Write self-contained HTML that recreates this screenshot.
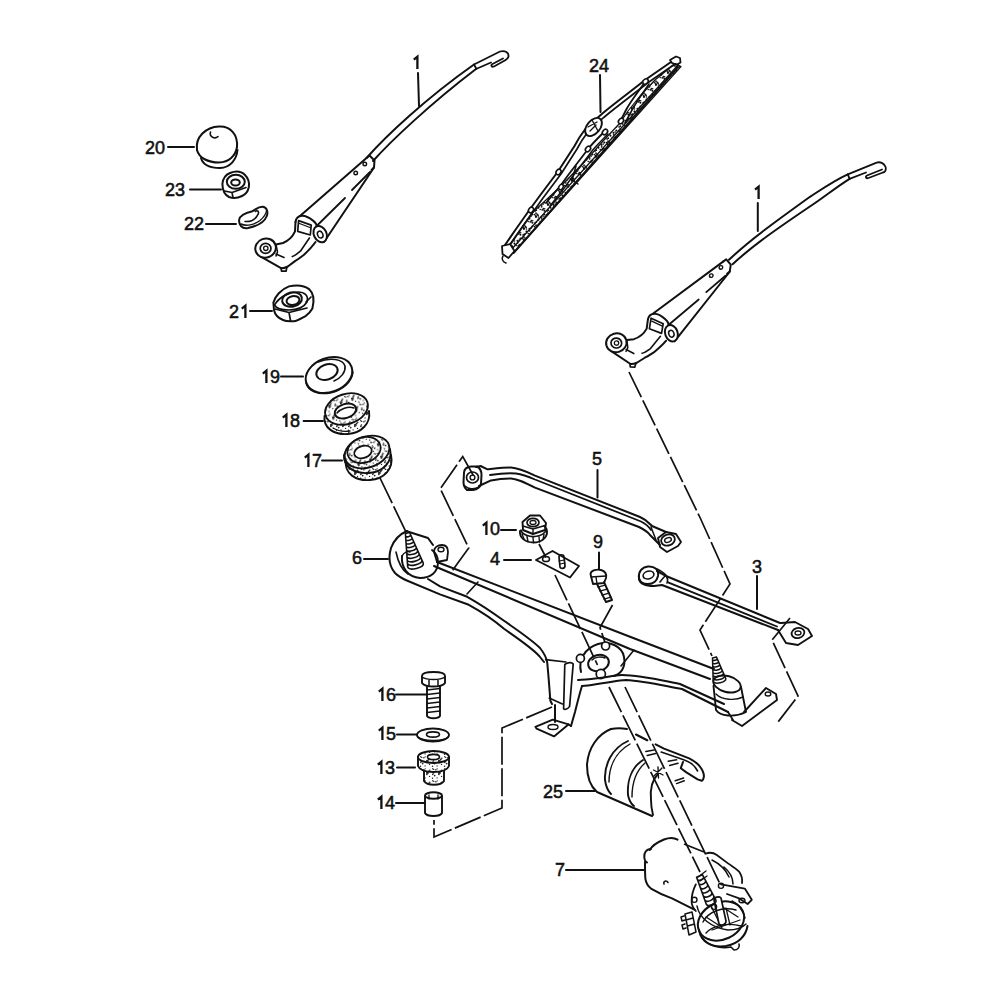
<!DOCTYPE html>
<html><head><meta charset="utf-8">
<style>
html,body{margin:0;padding:0;background:#fff;width:1000px;height:1000px;overflow:hidden}
svg{display:block}
text{font-family:"Liberation Sans",sans-serif;font-size:18px;fill:#111;stroke:#111;stroke-width:0.55px}
</style></head><body>
<svg width="1000" height="1000" viewBox="0 0 1000 1000">
<defs>
<pattern id="dots" width="12" height="12" patternUnits="userSpaceOnUse"><rect width="12" height="12" fill="#fff"/><g fill="#222"><circle cx="3.89" cy="1.81" r="0.80"/><circle cx="0.87" cy="6.43" r="0.71"/><circle cx="0.70" cy="6.09" r="0.61"/><circle cx="5.20" cy="0.84" r="0.63"/><circle cx="5.09" cy="9.92" r="0.64"/><circle cx="2.68" cy="7.53" r="0.88"/><circle cx="6.93" cy="4.76" r="0.89"/><circle cx="0.56" cy="10.30" r="0.69"/><circle cx="12.56" cy="10.30" r="0.69"/><circle cx="1.73" cy="1.41" r="0.69"/><circle cx="9.79" cy="2.17" r="0.77"/><circle cx="7.67" cy="4.47" r="0.76"/><circle cx="0.75" cy="0.72" r="0.66"/><circle cx="8.16" cy="5.13" r="0.69"/><circle cx="7.03" cy="5.44" r="0.69"/><circle cx="9.53" cy="8.39" r="0.67"/><circle cx="6.89" cy="6.30" r="0.86"/><circle cx="8.75" cy="3.46" r="0.89"/><circle cx="1.42" cy="5.02" r="0.83"/></g></pattern>
<pattern id="dots2" width="12" height="12" patternUnits="userSpaceOnUse"><rect width="12" height="12" fill="#fff"/><g fill="#111"><circle cx="1.82" cy="5.87" r="0.71"/><circle cx="8.02" cy="9.17" r="0.87"/><circle cx="10.51" cy="3.76" r="0.91"/><circle cx="7.13" cy="6.96" r="0.84"/><circle cx="10.08" cy="-0.66" r="0.84"/><circle cx="10.08" cy="11.34" r="0.84"/><circle cx="7.97" cy="0.73" r="0.91"/><circle cx="7.97" cy="12.73" r="0.91"/><circle cx="7.77" cy="-0.08" r="0.95"/><circle cx="7.77" cy="11.92" r="0.95"/><circle cx="3.42" cy="4.63" r="0.90"/><circle cx="0.27" cy="5.54" r="0.75"/><circle cx="12.27" cy="5.54" r="0.75"/><circle cx="1.41" cy="0.71" r="0.93"/><circle cx="1.41" cy="12.71" r="0.93"/><circle cx="1.55" cy="2.97" r="0.82"/><circle cx="10.46" cy="0.97" r="0.83"/><circle cx="6.59" cy="10.60" r="0.95"/><circle cx="10.37" cy="3.34" r="0.82"/><circle cx="4.31" cy="10.61" r="0.99"/><circle cx="1.81" cy="2.11" r="0.77"/><circle cx="2.80" cy="5.82" r="0.88"/><circle cx="3.15" cy="0.05" r="0.83"/><circle cx="3.15" cy="12.05" r="0.83"/><circle cx="4.43" cy="6.80" r="0.99"/><circle cx="8.29" cy="6.19" r="0.89"/><circle cx="8.11" cy="0.65" r="0.97"/><circle cx="8.11" cy="12.65" r="0.97"/><circle cx="9.36" cy="10.49" r="0.94"/><circle cx="4.71" cy="4.79" r="0.73"/><circle cx="7.61" cy="0.75" r="0.72"/></g></pattern>
</defs>
<rect width="1000" height="1000" fill="#fff"/>

<!-- LABELS -->
<g id="labels">
<text x="589.0" y="72.0">2</text>
<text x="599.0" y="72.0">4</text>
<text x="145.0" y="154.0">2</text>
<text x="155.0" y="154.0">0</text>
<text x="165.0" y="196.0">2</text>
<text x="175.0" y="196.0">3</text>
<text x="184.0" y="230.0">2</text>
<text x="194.0" y="230.0">2</text>
<text x="229.0" y="318.0">2</text>
<text x="270.0" y="383.0">9</text>
<text x="290.0" y="427.0">8</text>
<text x="312.0" y="467.0">7</text>
<text x="592.0" y="465.0">5</text>
<text x="490.0" y="535.0">0</text>
<text x="490.0" y="565.0">4</text>
<text x="593.0" y="548.0">9</text>
<text x="352.0" y="564.0">6</text>
<text x="752.0" y="573.0">3</text>
<text x="386.0" y="701.0">6</text>
<text x="386.0" y="740.0">5</text>
<text x="385.0" y="774.0">3</text>
<text x="385.0" y="809.0">4</text>
<text x="543.0" y="798.0">2</text>
<text x="553.0" y="798.0">5</text>
<text x="555.0" y="876.0">7</text>
<path d="M417.4 69.0 V56.7 L413.8 59.6 M245.4 318.0 V305.7 L241.8 308.6 M758.6 199.0 V186.7 L755.0 189.6 M266.4 383.0 V370.7 L262.8 373.6 M286.4 427.0 V414.7 L282.8 417.6 M308.4 467.0 V454.7 L304.8 457.6 M486.4 535.0 V522.7 L482.8 525.6 M382.4 701.0 V688.7 L378.8 691.6 M382.4 740.0 V727.7 L378.8 730.6 M381.4 774.0 V761.7 L377.8 764.6 M381.4 809.0 V796.7 L377.8 799.6" fill="none" stroke="#111" stroke-width="2.3" stroke-linejoin="miter"/>
</g>

<g id="art" fill="none" stroke="#111" stroke-width="2" stroke-linecap="round" stroke-linejoin="round">
<!-- leaders -->
<path d="M418 73L419 106 M600 75L600.5 112 M168 147H194 M190 189.5H221 M206 224H236 M250 311H272 M757.8 203L757.8 231 M281 376.6H303 M303.6 421H323 M322 460.6H342 M597.5 470V497.5 M501 530H516 M504 560H531 M599 552.5V569 M364 559H388 M757 576V609 M396 694.4H426 M397 734.4H417 M397 767.6H415 M396 803H425 M566 791H595 M566 870H644"/>

<!-- 20 cap -->
<path d="M197 150 C195 137 206 127 219 126.5 C231 126 238 135 237 147"/>
<path d="M197 150 C199 158 208 162.5 219 162.5 C229 162 235.5 156 237 147"/>
<path d="M201 158 C203 165 210 168 220 168 C230 167.5 236.5 160 237.5 150"/>
<path d="M210.5 132 C209 137 215 139.5 218 136.5" stroke-width="1.6"/>
<!-- 23 nut -->
<path d="M222.4 184 C223 178 226 174.5 230 173 C235 171 241 171 245 175 C248.5 178.5 249.5 183 248.8 187.2 C248 191 245.5 194.5 242 196 C238 198 233 198.5 229 197 C225 195 222.5 190 222.4 184 Z"/>
<ellipse cx="235.8" cy="181.8" rx="9" ry="7"/>
<ellipse cx="235.5" cy="182.5" rx="4.3" ry="3"/>
<path d="M224.5 191 L232 192.5 L246 187.5 M232 192.5 L233 197.5" stroke-width="1.6"/>
<!-- 22 washer -->
<path d="M239.2 219.6 C240 215 247 212.5 252.4 211.2 C256 209.5 258 206.5 263 206.8 C267.5 207.5 268 213 266.8 216 C264.5 222 258 226 248 228 C242 229 238.5 225 239.2 219.6 Z"/>
<path d="M245 221.5 C251 222 256 219 258.4 213.6 C259 211 257 210 255.5 211.5" stroke-width="1.6"/>
<path d="M241 224 C246 226.5 254 225 260 220.5 C264 217 266 214 266.5 211" stroke-width="1.4"/>
<!-- 21 nut -->
<path d="M273.4 302.6 C275 296 281 289.5 289 286.4 C295 285 303 284.5 309.4 289.4 C313.5 293 314.5 300 312.4 308.6 C310 313 307 315 305.8 315.8 C300 319 297 321 293.8 321.2 C289 321.5 285 321 283 320 C278 318 275 315 274 310 Z"/>
<path d="M274.5 305 C280 296 290 292 298 292 C304 292 309 295 307 302 C304 307 297 310 289 310 C281 310 276 308 274.5 305" stroke-width="1.7"/>
<ellipse cx="292" cy="299.5" rx="10" ry="7.2" transform="rotate(-12 292 299.5)"/>
<ellipse cx="293" cy="300.5" rx="6.5" ry="4.4" transform="rotate(-12 293 300.5)"/>
<path d="M275 309 L289 312.5 L307 308 M289 312.5 L290.5 320.5 M306 302 L311 297" stroke-width="1.7"/>
<!-- 19 washer -->
<ellipse cx="329" cy="375" rx="24" ry="17" transform="rotate(-20 329 375)"/>
<path d="M306 383 C308 391 318 395 330 393 C343 390 352 382 353 372" stroke-width="1.5"/>
<ellipse cx="327" cy="372" rx="11" ry="7.5" transform="rotate(-20 327 372)"/>
<path d="M318 362 C330 357 343 359 345 366 C346 372 341 378 334 381" stroke-width="1.6"/>

<!-- LEFT ARM 1 -->
<g id="armbody">
<path d="M366.5 158 L369.5 155.5 L374.5 160.5 L374 167.5 L371.5 170"/>
<path d="M366.5 158 L300 216"/>
<path d="M374 167.5 L365 181 L324 242"/>
<path d="M370 172 L352 190 M345 198 L316.6 226" stroke-width="1.8"/>
<circle cx="364.8" cy="164" r="1.8" stroke-width="1.4"/>
<circle cx="355.7" cy="173" r="1.8" stroke-width="1.4"/>
<path d="M295.5 222 C296 218.5 298.5 216 302 215.8 C305 215.6 309 217.5 313 220.6 C315.5 222.5 317 225 316.6 227 L315 236"/>
<path d="M298.6 220.6 L311.2 225.1 L310.3 235 L297.7 231.4 Z" stroke-width="1.7"/>
<path d="M299.5 223.5 L310 227.5" stroke-width="1.3"/>
<ellipse cx="320.2" cy="234.1" rx="6.3" ry="8.5" transform="rotate(-25 320.2 234.1)" fill="#fff"/>
<ellipse cx="320.2" cy="234.6" rx="2.6" ry="3.5" transform="rotate(-25 320.2 234.6)" stroke-width="1.5"/>
<path d="M295.5 222 L295 231.4 C293 236 290 240 283 243 L276 244.5"/>
<path d="M315.5 242 C312 247 308 251 304 254.8 C300 258 297 260 295 261.1 L287.8 266.5 C285 268 283 268.3 281.5 268.3 L260.8 256.6"/>
<path d="M309.4 238 L300.4 251.2 C297 254 294.5 256 292.3 256.6 M284 257.5 L276 254" stroke-width="1.6"/>
<path d="M281 267.8 L281.5 271.2 L286 271.2 L287 266.8" stroke-width="1.7"/>
<ellipse cx="265.6" cy="248.1" rx="10.4" ry="9.5" transform="rotate(-20 265.6 248.1)" fill="#fff"/>
<ellipse cx="265.6" cy="248.3" rx="5.4" ry="5" stroke-width="1.7"/>
<circle cx="265.8" cy="248.3" r="2.2" stroke-width="1.3"/>
<path d="M276 244.5 L277.5 252 L276 256" stroke-width="1.5"/>
</g>
<path d="M367 157.5 C385 137 425 99 474 64.5"/>
<path d="M373 161 C391 141 430 104 476 69"/>
<path d="M474 64.5 L500 51.5 C505 50 509 52.5 508.5 56.5 C508 59 506 60 503 61.5 L494 66.5 C491.5 67.5 490.5 65 492.5 64 L503 58.5 M476 69 L491 62.5 M474 64.5 L476.5 69" stroke-width="1.8"/>

<!-- RIGHT ARM 1 -->
<use href="#armbody" transform="matrix(0.98831 0.07772 -0.07772 0.98831 373.13 76.99)"/>
<path d="M729 259.8 C750 240 775 222 810 196.8 C825 187 835 180 847.8 174.3"/>
<path d="M732.6 264.3 C752 246 778 228 813.6 204 C828 194 838 186 849.6 178.8"/>
<path d="M847.8 174.3 L876.6 162.6 C880 161.5 884 163 885.6 167 C886.5 170 885 172 882.9 172.5 L868.5 178 C866 179 865 176.5 867 175.5 L882 169.5 M849.6 178.8 L866 172.5 M847.8 174.3 L849.6 178.8" stroke-width="1.8"/>

<!-- BLADE 24 -->
<path d="M675 63.5 L655 80 L640 96 L628 111 L620 123 L604 140 L588 158 L561 186 L531 214 L507.5 247.5 L513.5 253 L681 66.5 Z" fill="url(#dots2)" stroke-width="1.2"/>
<path d="M678 67 L513.5 253" stroke-width="2"/>
<path d="M678.5 64.5 L510.5 250.5" stroke-width="1.3"/>
<path d="M670 60 L676 56.5 L680 58 L680.5 62.5 L677 64.5 L672 63 Z" stroke-width="1.8"/>
<path id="bridgeA" d="M671 62 L645 80 C630 92 615 103 603 113 C596 119 590 124 585 129.5 C580 136 577 141 574.5 146 L558 171.5 L540 195.5 C530 209 518 226 505 245"/>
<path d="M673.5 65 L647.5 83 C632.5 95 617.5 106 605.5 116 C598.5 122 592.5 127 587.5 132.5 C582.5 139 579.5 144 577 149 L561 174 L543 198 C533 212 521 229 508 248" stroke-width="1.7"/>
<path d="M645 82 C638 92 630 102 626 110 C624 114 622 118 620 122" stroke-width="1.8"/>
<path d="M649 84 C642 94 635 104 631 112 L625 123" stroke-width="1.6"/>
<ellipse cx="593.5" cy="127" rx="10.5" ry="6.5" transform="rotate(-50 593.5 127)" fill="#fff" stroke-width="1.9"/>
<path d="M588 127 L597 122 M590 131 L596 125 M592 120 L598 131" stroke-width="1.3"/>
<path d="M604 132 C598 138 592 144 588 149 C580 160 570 172 561 185 L546 203" stroke-width="1.8"/>
<path d="M608 134 C602 140 596 146 592 151 C584 162 574 174 565 187 L550 206" stroke-width="1.5"/>
<ellipse cx="621" cy="121" rx="3" ry="2.2" transform="rotate(-48 621 121)" fill="#fff" stroke-width="1.6"/>
<ellipse cx="605" cy="132" rx="3" ry="2.2" transform="rotate(-48 605 132)" fill="#fff" stroke-width="1.6"/>
<ellipse cx="588" cy="149" rx="3" ry="2.2" transform="rotate(-48 588 149)" fill="#fff" stroke-width="1.6"/>
<ellipse cx="558.5" cy="172" rx="3" ry="2.3" transform="rotate(-55 558.5 172)" fill="#fff" stroke-width="1.6"/>
<ellipse cx="561" cy="187" rx="2.8" ry="2" transform="rotate(-55 561 187)" fill="#fff" stroke-width="1.5"/>
<ellipse cx="531" cy="210" rx="3" ry="2.3" transform="rotate(-55 531 210)" fill="#fff" stroke-width="1.6"/>
<ellipse cx="645.5" cy="81.5" rx="3" ry="2.3" transform="rotate(-40 645.5 81.5)" fill="#fff" stroke-width="1.6"/>
<path d="M576 166 L572 180 L578 184" stroke-width="1.5"/>
<path d="M502 246 L510 244 L514.5 251 L508.5 258 L502.5 254 Z" fill="#fff" stroke-width="1.8"/>
<path d="M503 256 C501 259 503 262 506 263" stroke-width="1.5"/>

<!-- 18 grommet -->
<path d="M324.5 416 C323 428 334 435 348 434 C361 433 371 424 369 411" fill="url(#dots)" stroke-width="1.9"/>
<ellipse cx="346.5" cy="409" rx="22" ry="15" transform="rotate(-18 346.5 409)" fill="url(#dots)" stroke-width="1.9"/>
<ellipse cx="345.5" cy="411" rx="11" ry="7" transform="rotate(-18 345.5 411)" fill="#fff" stroke-width="1.9"/>
<path d="M337 413 C340 409 348 406 354 408" stroke-width="1.5"/>
<path d="M333 428 C338 431 344 432 350 431" stroke-width="1.3"/>
<!-- 17 grommet -->
<path d="M346 460 C344 474 356 481 370 480 C384 479 394 469 391 455" fill="url(#dots)" stroke-width="1.9"/>
<path d="M344 455 C343 467 355 474 369 473 C383 472 393 462 390 449" fill="url(#dots)" stroke-width="1.9"/>
<ellipse cx="367" cy="452" rx="23" ry="15.5" transform="rotate(-18 367 452)" fill="url(#dots)" stroke-width="1.9"/>
<ellipse cx="364" cy="450" rx="17" ry="12.5" transform="rotate(-18 364 450)" fill="url(#dots)" stroke-width="1.7"/>
<ellipse cx="363" cy="452" rx="9" ry="6" transform="rotate(-18 363 452)" fill="#fff" stroke-width="1.8"/>
<!-- 10 nut -->
<path d="M520 531 C519 538 526 542.5 533.5 542.5 C541 542.5 547.5 538 547 531 C546 527 544 526 544 526" stroke-width="1.9"/>
<path d="M522 534 L524 539 M527 536.5 L528 541.5 M533 537.5 L533.5 542.5 M539 537 L539.5 542 M544 534.5 L543 539.5" stroke-width="1.4"/>
<path d="M521 530 C522 535 530 537 535 536.5 C541 536 546 533 546.5 529" stroke-width="1.6"/>
<path d="M522.5 522 L530 515.5 L540 515.5 L546 523 L545 530 L533 534 L523 530 Z" stroke-width="1.9"/>
<path d="M523 526 L533 529 L545 525.5 M533 529 L533 534" stroke-width="1.4"/>
<ellipse cx="533" cy="522.5" rx="6" ry="4.2" stroke-width="1.7"/>
<ellipse cx="533" cy="522.5" rx="3" ry="2" stroke-width="1.3"/>
<!-- 4 plate -->
<path d="M536 560 L552.5 551 L579 566 L570 577.5 Z" stroke-width="1.9"/>
<ellipse cx="546" cy="559" rx="3.5" ry="2.6" stroke-width="1.5"/>
<path d="M559 557 C559 554 564 554 564 557 L565 566 C565 569 560 569 560 567 Z" stroke-width="1.7"/>
<path d="M559 561 L564.5 560 M560 564 L565 563" stroke-width="1.2"/>
<!-- 9 bolt -->
<path d="M590.5 574 C591 570 597 569 601 570 C605 571 607 574 606 578 L604 583 L593 584 Z" stroke-width="1.9"/>
<path d="M596 577 L597 584 M591 577 L606 576" stroke-width="1.4"/>
<path d="M597 584 L606 602 L612 600 L604 582" stroke-width="1.9"/>
<path d="M598 587 L605 585 M600 591 L607 589 M602 595 L609 593 M604 599 L611 597" stroke-width="1.3"/>
<!-- 5 link -->
<path d="M464 473 C464 469 467 467 471 466.5 L477 466.5 C480 468 481.5 471 481.5 475 L481 484 C480 487.5 477 489.5 473 490 L467 490 C464.5 488 463.5 485 463.5 482 Z"/>
<ellipse cx="472.5" cy="477.5" rx="6" ry="5.5" stroke-width="1.7"/>
<circle cx="472.5" cy="477.5" r="2.4" stroke-width="1.4"/>
<path d="M465 486 C468 489 474 490 479 487" stroke-width="1.5"/>
<path d="M476 467 L480.6 466 L487 469.2 C495 468.5 505 467.5 511 467.6 C518 468 523 470 535 475.6 L640 517 C647 520 650 524 652 526 L666 532"/>
<path d="M479 486 L491 480.4 C498 479 505 478.4 511 478.4 C518 479 524 482 535 487.6 L639 527 C645 530 648 532 650 535 L660 545"/>
<path d="M490 475 C500 473.5 510 473 516 473.5 C523 474.5 528 476.5 535 479.5 L641 521.5 C646 524 649 527 651 530" stroke-width="1.8"/>
<path d="M658 538 L666 532 L676 534 L681 542 L678 546 L667 552 L660 547 Z" stroke-width="1.9"/>
<ellipse cx="668" cy="540" rx="7" ry="5.5" transform="rotate(-20 668 540)" stroke-width="1.8"/>
<ellipse cx="668" cy="540" rx="3.5" ry="2.2" transform="rotate(-20 668 540)" stroke-width="1.4"/>
<path d="M651 527 L656 540" stroke-width="1.5"/>
<!-- 3 link -->
<path d="M639 578 C638 572 642 567 648 566.5 C655 566 659 570 658 576 C657 581 653 584 648 584 C643 584 639.5 582 639 578 Z"/>
<ellipse cx="648.5" cy="575" rx="5.5" ry="3.8" transform="rotate(-15 648.5 575)" stroke-width="1.6"/>
<path d="M639 579 C640 583 645 586 654 586 L662 585 L778 630"/>
<path d="M657 571 C661 573 664 575 666 576 L780 623"/>
<path d="M668 582.4 L777 626.5" stroke-width="1.8"/>
<path d="M657 569 C661 571 665 573 666.4 576 C668 579 668 581 667 583 M660 582 C663 578 665 576 666 575" stroke-width="1.6"/>
<path d="M639.5 580 C640.5 583 643 584.5 646 584.5" stroke-width="1.6"/>
<path d="M778 630 L786 643 L798 645 L812 636 L808 629 L795 622 L781 623" stroke-width="1.9"/>
<ellipse cx="798" cy="633" rx="6.5" ry="5" transform="rotate(-15 798 633)" stroke-width="1.8"/>
<ellipse cx="798" cy="633" rx="3" ry="2" stroke-width="1.3"/>

<!-- FRAME 6 -->
<path d="M407 531 C400 534 394 540 391 548 C388 558 390 567 395 573 C399 577 403 579 408 581 L440 594.4 L468.8 604.8 C482 612 494 620 504 628.8 C520 640 532 648 539.2 656 L544 662"/>
<path d="M406 531 L428 538 L433 545"/>
<path d="M428 579 L440 586.4 L467.2 596.8 C480 604 492 612 504 620.8 C520 632 532 640 540 648 C544 653 546.5 658 547.2 662.4 C548.5 675 549.5 690 550.4 700.8 L552 704"/>
<path d="M396 552 C398 562 402 570 408 574" stroke-width="1.6"/>
<!-- spindle left -->
<path d="M405.6 536.2 C405.9 537.7 411.1 536.4 410.7 534.9 M405.8 539.6 C406.3 541.5 412.6 539.9 412.1 538.0 M406.0 543.0 C406.6 545.2 414.1 543.4 413.5 541.2 M406.3 546.5 C406.9 549.0 415.5 546.8 414.9 544.3 M406.5 549.9 C407.2 552.7 417.0 550.3 416.3 547.4 M406.8 553.3 C407.6 556.5 418.5 553.7 417.7 550.6 M407.0 556.7 C407.9 560.2 420.0 557.2 419.1 553.7 M407.3 560.1 C408.2 564.0 421.4 560.7 420.5 556.8 M407.5 563.5 C408.5 567.7 422.9 564.1 421.9 559.9 M407.7 566.9 C408.9 571.5 424.4 567.6 423.3 563.1 M405.4 533.5 L407.7 566.9 M409.6 532.5 L423.3 563.1 M405.4 533.5 L409.6 532.5" stroke-width="1.6"/>
<path d="M402 556 C401 568 408 577 420 578 C431 578 438 572 438 562 C438 557 436 553 432 550" stroke-width="1.9"/>
<path d="M402 556 C404 552 408 551 410 552" stroke-width="1.5"/>
<!-- crank -->
<path d="M434 552 C434 547 438 545 442 545 C446 545 448 548 448 552 L447 560 L437 562 Z" stroke-width="1.8"/>
<ellipse cx="441" cy="549.5" rx="3" ry="2.2" stroke-width="1.4"/>
<!-- long link bar -->
<path d="M437 562 L630 636.8 L714 669"/>
<path d="M434 566 L630 649 L710 679"/>
<path d="M467 594 L478 582" stroke-width="1.6"/>
<!-- hub -->
<path d="M581 672 C578 660 585 648 598 644 C610 641 622 646 624 657 C626 667 621 674 614 676"/>
<ellipse cx="598.5" cy="663" rx="10.5" ry="8" transform="rotate(-15 598.5 663)"/>
<path d="M592 660 C595 657 601 656 605 658" stroke-width="1.4"/>
<circle cx="605.6" cy="646" r="4" fill="#fff" stroke-width="1.7"/>
<circle cx="580.4" cy="658.4" r="4" fill="#fff" stroke-width="1.7"/>
<circle cx="600.8" cy="674" r="4.6" fill="#fff" stroke-width="1.7"/>
<!-- right band -->
<path d="M578 680 C585 680 592 679 600 678 C608 677 614 675 622 675 C640 675 660 680 680 684 L724 704"/>
<path d="M582 686 C590 686 596 684 604 683 C612 682 618 680 626 680 C645 681 665 686 682 689 L728 712"/>
<path d="M621 666 L634 650" stroke-width="1.6"/>
<path d="M545.6 659.6 L566 662" stroke-width="1.6"/>
<path d="M549.2 698 L562.4 704" stroke-width="1.6"/>
<!-- down leg + foot -->
<path d="M582 686 C580 692 578 700 575 712 L571 726"/>
<path d="M555 705 L555 722"/>
<path d="M535.4 726.8 L552.8 719.6 L568.4 724.4 L554 736.4 L536.6 728.6 Z" stroke-width="1.9"/>
<ellipse cx="553" cy="727" rx="5" ry="2.5" stroke-width="1.4"/>
<path d="M571 726 L568.4 724.4"/>
<path d="M564.8 664.4 C568 662 572 662 573.2 664 L569.6 706.4 C568 709 565 710 563.6 708.8 Z" stroke-width="1.7"/>
<!-- right pivot -->
<path d="M712.6 659.8 C712.9 661.2 717.5 660.1 717.2 658.8 M712.7 662.9 C713.1 664.6 718.8 663.3 718.4 661.6 M712.8 666.0 C713.2 668.0 720.1 666.5 719.7 664.4 M712.8 669.1 C713.4 671.4 721.4 669.6 720.9 667.3 M712.9 672.2 C713.5 674.9 722.7 672.8 722.1 670.1 M713.0 675.2 C713.7 678.3 724.1 676.0 723.4 672.9 M713.1 678.3 C713.8 681.7 725.4 679.1 724.6 675.8 M713.2 681.4 C714.0 685.1 726.7 682.3 725.8 678.6 M712.5 657.9 L713.2 681.4 M716.5 657.1 L725.8 678.6 M712.5 657.9 L716.5 657.1" stroke-width="1.5"/>
<ellipse cx="727" cy="684" rx="14" ry="8" transform="rotate(15 727 684)" stroke-width="1.9"/>
<path d="M713.5 686 L716 710 C720 716 734 718 746 712 L741 687" stroke-width="1.9"/>
<path d="M716 694 C722 700 735 701 743 697" stroke-width="1.4"/>
<path d="M744 712 L766 688 L776 694 L777 700 L742 726 L732 720" stroke-width="1.9"/>
<ellipse cx="768" cy="694" rx="2.8" ry="2" stroke-width="1.4"/>
<path d="M728 712 L733 720" stroke-width="1.8"/>

<!-- 16 bolt -->
<path d="M422 676 C422 673 426 672 433.5 672 C441 672 445 673 445 676 L445 683 C443 686 438 686.5 433.5 686.5 C428 686.5 424 686 422 683 Z" stroke-width="1.9"/>
<path d="M422 677 C425 679 430 679.5 433.5 679.5 C437 679.5 442 679 445 677 M429 679.5 L429 686 M438 679.5 L438 686" stroke-width="1.5"/>
<path d="M427 686.5 L427 716 C429 719 438 719 440 716 L440 686.5" stroke-width="1.9"/>
<path d="M427 690 L440 688.5 M427 694.5 L440 693 M427 699 L440 697.5 M427 703.5 L440 702 M427 708 L440 706.5 M427 712.5 L440 711" stroke-width="1.4"/>
<!-- 15 washer -->
<ellipse cx="433" cy="735" rx="16" ry="6.5" stroke-width="1.9"/>
<ellipse cx="433" cy="734.5" rx="6.5" ry="2.6" stroke-width="1.6"/>
<path d="M418 737 C422 741 444 742 448 737" stroke-width="1.3"/>
<!-- 13 grommet -->
<path d="M424 770 L424 781 C427 786 441 786 444 781 L444 770" fill="url(#dots)" stroke-width="1.9"/>
<path d="M418 757 L418 766 C420 771 428 772 433.5 772 C440 772 447 771 449 766 L449 757" fill="url(#dots)" stroke-width="1.9"/>
<ellipse cx="433.5" cy="757" rx="15.5" ry="6" fill="url(#dots)" stroke-width="1.9"/>
<ellipse cx="433.5" cy="757" rx="6" ry="2.6" fill="#fff" stroke-width="1.6"/>
<!-- 14 sleeve -->
<path d="M425 796 L425 813 C427 817 440 817 442 813 L442 796" stroke-width="1.9"/>
<ellipse cx="433.5" cy="795.5" rx="8.5" ry="3.2" stroke-width="1.9"/>
<path d="M429 795 L429 799 M438 795 L438 799" stroke-width="1.3"/>
<!-- 25 cover -->
<path d="M611 729 C598 734 588 748 587 765 C587 777 590 786 597 792 L652 816"/>
<path d="M627 729 C622 728 616 728 611 729"/>
<path d="M636 734.6 L647.2 740.2" stroke-width="2.2"/>
<path d="M655.6 744.4 L664 748.6 L689.2 758.4 C694 761 697 763 699 765.4 C702 769 704 773 703.9 776.6 C703.5 779 702.5 780.5 701.8 780.8 L697.6 779.4 L686.4 772.4 L680.8 768.2 L683 762"/>
<path d="M661.2 752.1 L683.6 759.8 C688 761.5 690 762.5 692 764 C694.5 766 696 768 697.6 771" stroke-width="1.6"/>
<path d="M645.8 751.4 L654.2 750 M647.2 755.6 L655.6 753.5 M668.2 761.2 L676.6 759.8 M669.6 765.4 L678 763.3 M675.2 780.8 L683.6 778 M676.6 783.6 L684.3 780.8" stroke-width="1.5"/>
<path d="M653.5 770 L663 775 M658 767 L658.5 778 M654 776 L662 768" stroke-width="1.4"/>
<path d="M628 741 C612 748 604 765 605 780 C606 787 608 791 611 794" stroke-width="1.9"/>
<path d="M630 744 C616 752 609 766 609 782" stroke-width="1.4"/>
<path d="M643 760 C632 767 627 780 628 795 C629 800 631 804 634 806" stroke-width="1.9"/>
<path d="M645 763 C636 771 632 783 632 797" stroke-width="1.4"/>
<path d="M658 774 C652 780 650 790 651 800 C651 806 652 811 653 815" stroke-width="1.9"/>

<!-- 7 motor -->
<path d="M649.6 850 C652 846 658 842 664 839.5 C669 837.5 674 837.5 677.6 839.6" />
<path d="M651 849 C646 849 644 853 644.3 857 C644.5 860 645.5 862 647 862.5" />
<path d="M645 862 C645 868 645 875 645.4 878.8 C646 883 648 886 651 888.6 C660 894 668 897 672 898.4 L694.4 909.6" />
<path d="M664 884 C663 881 666.5 880 668 882.5" stroke-width="1.6"/>
<ellipse cx="721" cy="921" rx="24" ry="18.5" transform="rotate(-25 721 921)"/>
<path d="M699 930 C701 942 712 948 726 946 C738 944 746 936 747.5 926" />
<path d="M702 938 C708 946 720 949 731 947 L734 950 C738 950 740 947 739 944" stroke-width="1.6"/>
<path d="M711 906 L722 928 M718 904 L738 917 M706 917 L720 926 M726 908 L730 925 M712 930 L740 920" stroke-width="1.3"/>
<path d="M705.6 853.6 C710 852 714 853 716.8 855 L728 863.4 C733 867 737 869 739.2 871.8 C742 876 742.5 880 742 883" stroke-width="1.8"/>
<path d="M712 860 C720 864 726 870 729 877 M724 867 C730 872 733 877 733 884" stroke-width="1.5"/>
<path d="M721 884.4 L744.8 888.6 L751.8 899.8 L747.6 904 L739.2 898.4 L727 894" stroke-width="1.8"/>
<ellipse cx="742" cy="900.5" rx="3" ry="2.3" stroke-width="1.4"/>
<path d="M695.8 884.4 C693 890 691.6 896 691.6 901.2 C691.6 905 693 908 695.8 911" stroke-width="1.8"/>
<path d="M698 877 L706 871 M700 881 L707 876" stroke-width="1.3"/>
<path d="M714 900 C714 897 719 896 721 898 L726 921 C726 925 721 926 719 924 Z" fill="#fff" stroke-width="1.7"/>
<circle cx="694.4" cy="899.8" r="2.6" stroke-width="1.4"/>
<circle cx="714" cy="906.8" r="2.6" stroke-width="1.4"/>
<circle cx="721" cy="885.8" r="2.6" stroke-width="1.4"/>
<path d="M685 914 L692 912 L696 932 L689 935 Z M686 920 L693 918 M687.5 926 L694.5 924 M684 916 L681 917 L682 921 L685 920 M685 924 L682 925 L683 929 L686 928" stroke-width="1.5"/>
<path d="M697.3 879.4 C698.4 881.8 704.6 879.1 703.5 876.7 M698.8 883.5 C700.0 886.2 706.7 883.2 705.5 880.6 M700.3 887.7 C701.6 890.5 708.8 887.3 707.6 884.4 M701.8 891.8 C703.1 894.8 711.0 891.4 709.6 888.3 M703.3 895.9 C704.7 899.2 713.1 895.4 711.7 892.2 M704.8 900.0 C706.3 903.5 715.3 899.5 713.7 896.0 M706.2 904.1 C707.9 907.8 717.4 903.6 715.8 899.9 M696.6 877.3 L706.2 904.1 M702.4 874.7 L715.8 899.9 M696.6 877.3 L702.4 874.7" stroke-width="1.6"/>
<path d="M703 922 C708 912 722 906 736 910 M706 933 C712 926 728 922 741 926 M732 901 C738 904 743 910 745 918" stroke-width="1.4"/>
<path d="M697 906 C699 918 712 928 728 930 C736 930 742 928 746 924" stroke-width="1.5"/>
</g>

<g fill="none" stroke="#111" stroke-width="1.7" stroke-dasharray="28 3.5" stroke-linecap="butt">
<path d="M380 478 L406 532"/>
<path d="M473.25 475.25 L462.75 456.5 L440.25 488.75 L468.75 548 L456.75 564.5 L451.5 572"/>
<path d="M539 544 L546 557.5" stroke-dasharray="20 4"/>
<path d="M555 575 L597.5 665"/>
<path d="M612.5 605 L600 627.5 L605 642.5"/>
<path d="M629 372 L700 517.5 L730 584 L700 630 L712 656"/>
<path d="M790 618 L772 640 L798 696 L778 722"/>
<path d="M552 707 L502 728 L502 808 L434 837 L434 820"/>
<path d="M609 687 L700 872"/>
<path d="M625 687 L720 884"/>
<path d="M684 844 L704 852"/>
</g>
</svg>
</body></html>
